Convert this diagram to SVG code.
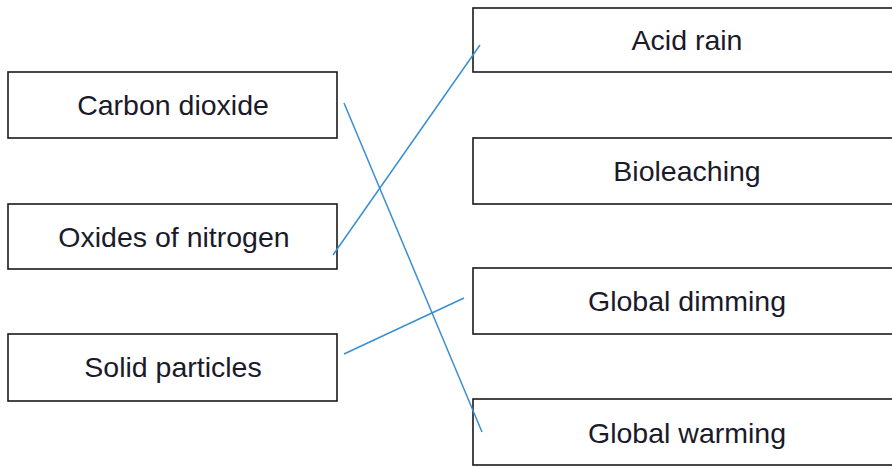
<svg xmlns="http://www.w3.org/2000/svg" width="892" height="468" viewBox="0 0 892 468">
<style>
.box{fill:#fff;stroke:#1a1a1a;stroke-width:1.6}
.lbl{font-family:"Liberation Sans",Arial,sans-serif;font-size:28.5px;fill:#1a1a2a;text-anchor:middle}
.con{stroke:#3a8fd0;stroke-width:1.5;fill:none}
</style>
<rect width="892" height="468" fill="#fff"/>
<g id="n-carbon"><rect class="box" x="8" y="72" width="329" height="66"/><text class="lbl" x="173" y="115">Carbon dioxide</text></g>
<g id="n-oxides"><rect class="box" x="8" y="204" width="329" height="65"/><text class="lbl" x="174" y="247">Oxides of nitrogen</text></g>
<g id="n-solid"><rect class="box" x="8" y="334" width="329" height="67"/><text class="lbl" x="173" y="377">Solid particles</text></g>
<g id="n-acid"><rect class="box" x="473" y="8" width="430" height="64"/><text class="lbl" x="687" y="50">Acid rain</text></g>
<g id="n-bio"><rect class="box" x="473" y="138" width="430" height="66"/><text class="lbl" x="687" y="181">Bioleaching</text></g>
<g id="n-dim"><rect class="box" x="473" y="268" width="430" height="66"/><text class="lbl" x="687" y="311">Global dimming</text></g>
<g id="n-warm"><rect class="box" x="473" y="399" width="430" height="66"/><text class="lbl" x="687" y="443">Global warming</text></g>
<g id="connectors">
<line class="con" x1="344" y1="103" x2="482" y2="432"/>
<line class="con" x1="333" y1="255" x2="480" y2="45"/>
<line class="con" x1="344" y1="354" x2="464" y2="298"/>
</g>
</svg>
